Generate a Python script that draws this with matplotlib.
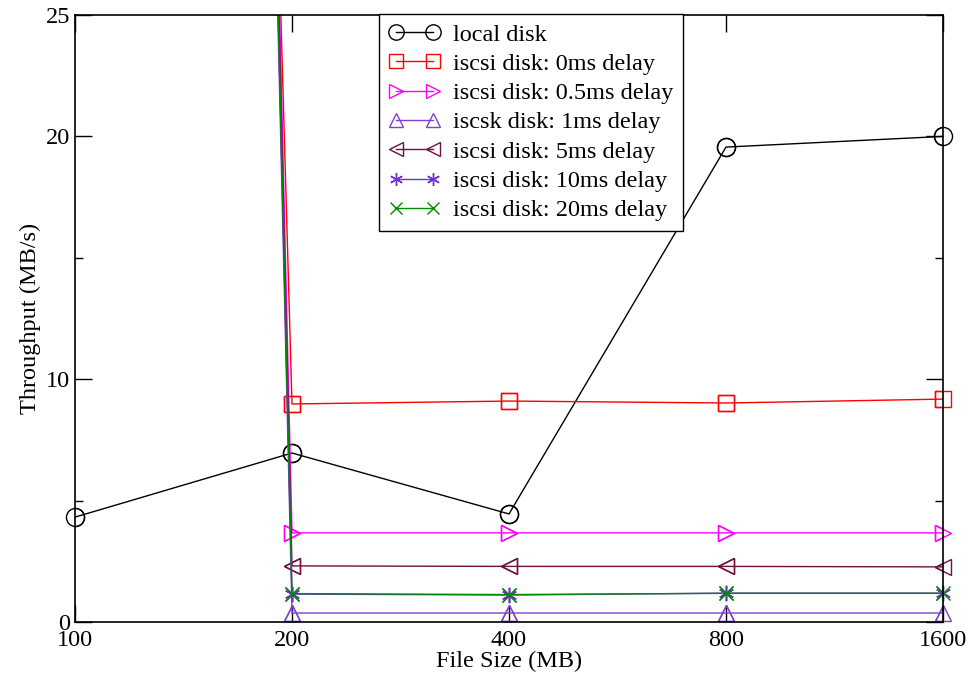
import numpy as np
import matplotlib
matplotlib.use('Agg')
import matplotlib.pyplot as plt

plt.rcParams['font.family'] = 'Liberation Serif'

sizes = [100, 200, 400, 800, 1600]
local_disk = [4.32, 6.96, 4.45, 19.56, 20.0]
iscsi_0ms = [320, 8.98, 9.10, 9.02, 9.18]
iscsi_05ms = [380, 3.67, 3.67, 3.67, 3.67]
iscsi_1ms = [375, 0.37, 0.37, 0.37, 0.37]
iscsi_5ms = [378, 2.31, 2.29, 2.29, 2.27]
iscsi_10ms = [376, 1.15, 1.11, 1.19, 1.19]
iscsi_20ms = [377, 1.17, 1.13, 1.18, 1.18]

series = [
    ('local disk', local_disk, 'black', 'o', 13),
    ('iscsi disk: 0ms delay', iscsi_0ms, '#ff0000', 's', 11.5),
    ('iscsi disk: 0.5ms delay', iscsi_05ms, '#ff00ff', '>', 11.5),
    ('iscsk disk: 1ms delay', iscsi_1ms, '#8040d0', '^', 11.5),
    ('iscsi disk: 5ms delay', iscsi_5ms, '#701040', '<', 11.5),
    ('iscsi disk: 10ms delay', iscsi_10ms, '#7030d0', (6, 2, 0), 11),
    ('iscsi disk: 20ms delay', iscsi_20ms, '#008a00', 'x', 10),
]

fig = plt.figure(figsize=(9.73, 6.84), dpi=100)
ax = fig.add_axes([75/973, 1-622/684, 868/973, 607/684])

ymax = 25
for label, vals, color, mk, ms in series:
    ax.plot(sizes, vals, color=color, lw=1, marker=mk, ms=ms, mfc='none',
            mec=color, mew=1, label=label)
    vis = np.ma.masked_greater(np.array(vals, dtype=float), ymax)
    ax.plot(sizes, vis, ls='none', marker=mk, ms=ms, mfc='none', mec=color,
            mew=1, clip_on=False)

ax.set_xscale('log', base=2)
ax.set_xlim(100, 1600)
ax.set_xticks(sizes)
ax.set_xticklabels([str(s) for s in sizes])
ax.xaxis.set_minor_locator(matplotlib.ticker.NullLocator())
ax.set_ylim(0, ymax)
ax.set_yticks([0, 10, 20, 25])
ax.set_yticks([5, 15], minor=True)
ax.tick_params(which='both', direction='in', top=True, right=True, labelsize=17.5)
ax.tick_params(axis='x', which='major', pad=6)
ax.tick_params(which='major', length=12, width=1)
ax.tick_params(which='minor', length=6, width=1)
for sp in ax.spines.values():
    sp.set_linewidth(1.2)

ax.set_xlabel('File Size (MB)', fontsize=17.5, labelpad=0)
ax.set_ylabel('Throughput (MB/s)', fontsize=17.5, labelpad=3)

leg = ax.legend(loc='upper left', bbox_to_anchor=(0.35, 1.002), borderaxespad=0,
                fancybox=False, edgecolor='black', framealpha=1, fontsize=17.5,
                numpoints=2, markerscale=0.85, handlelength=2.12,
                handletextpad=0.52, labelspacing=0.3, borderpad=0.4)
leg.get_frame().set_linewidth(1)

fig.savefig('out.png', dpi=100)
